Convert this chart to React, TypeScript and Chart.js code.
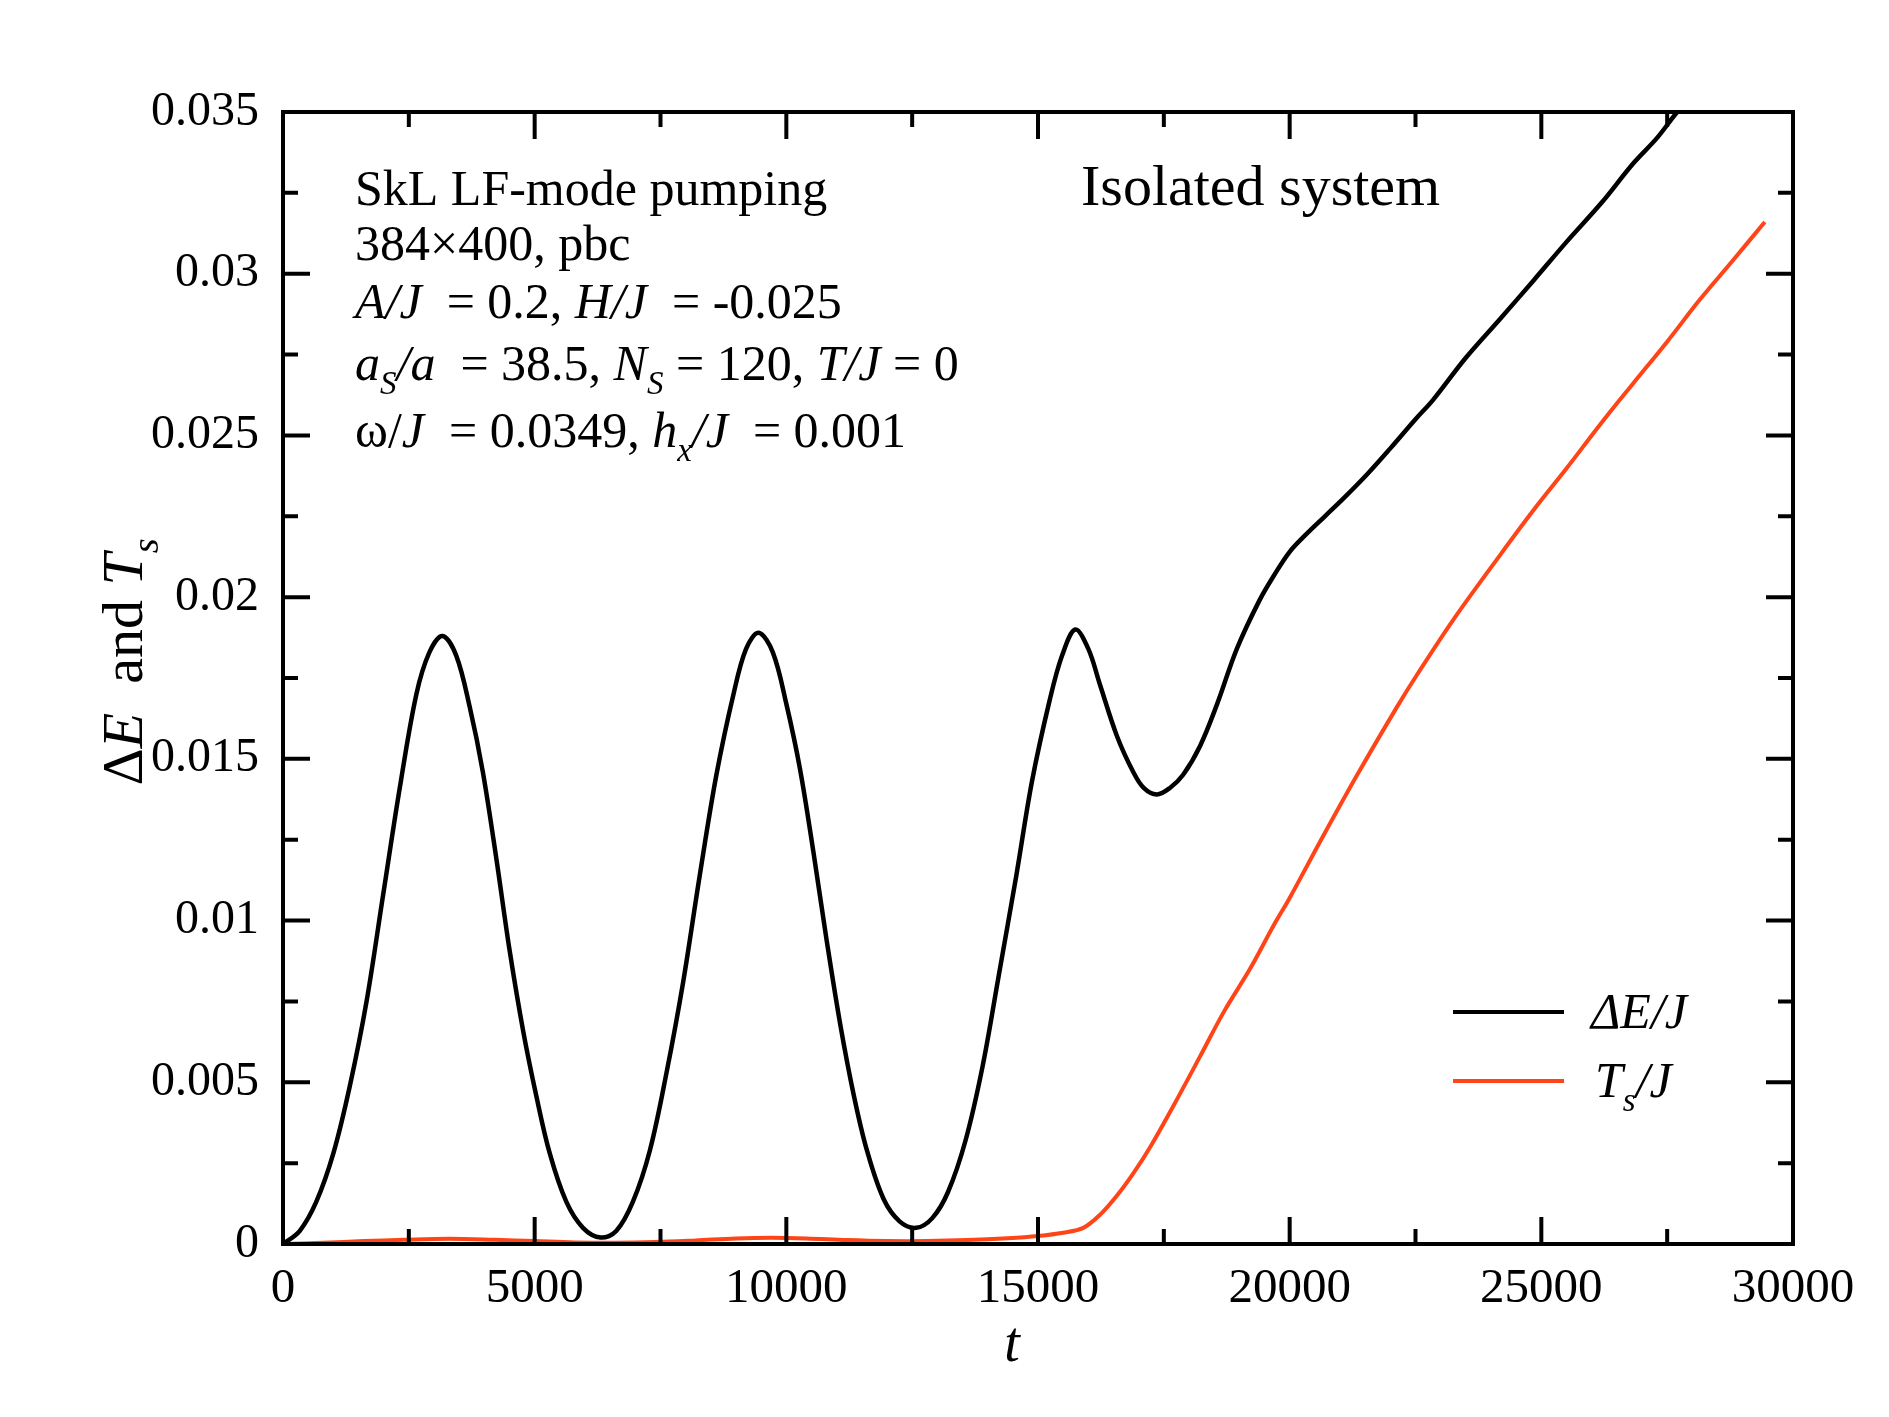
import React, { useEffect, useRef } from 'react';
import { Chart, registerables } from 'chart.js';

Chart.register(...registerables);

// ---- data ----
const tDE = [
  0, 330, 660, 1000, 1330, 1660, 1990, 2320, 2650, 2910, 3170, 3440, 3710, 3970, 4240, 4500, 4770, 5030,
  5300, 5630, 5960, 6310, 6620, 6950, 7290, 7620, 7950, 8280, 8610, 8950, 9200, 9450, 9730, 10000, 10270,
  10540, 10800, 11070, 11340, 11600, 11930, 12250, 12580, 12900, 13210, 13560, 13900, 14220, 14570, 14880,
  15230, 15480, 15740, 16000, 16230, 16570, 16890, 17100, 17360, 17620, 17880, 18220, 18560, 18950, 19400,
  19700, 20000, 20300, 20700, 21100, 21540, 22000, 22500, 22850, 23500, 24180, 24850, 25510, 26200, 26820,
  27300, 27700, 28500, 29400,
];
const vDE = [
  0, 0.0004, 0.0013, 0.0028, 0.0049, 0.0075, 0.0108, 0.0141, 0.017, 0.0183, 0.0188, 0.0182, 0.0166, 0.0146,
  0.0119, 0.0091, 0.0066, 0.0046, 0.0028, 0.0013, 0.0005, 0.0002, 0.0004, 0.0013, 0.0029, 0.0053, 0.0081,
  0.0114, 0.0145, 0.017, 0.0184, 0.0189, 0.0183, 0.0167, 0.0147, 0.0121, 0.0094, 0.0068, 0.0046, 0.0029,
  0.0014, 0.0007, 0.0005, 0.0008, 0.0016, 0.0032, 0.0055, 0.0083, 0.0114, 0.0143, 0.0168, 0.0182, 0.019,
  0.0184, 0.0173, 0.0157, 0.0146, 0.0141, 0.0139, 0.0141, 0.0145, 0.0154, 0.0167, 0.0184, 0.0199, 0.0207,
  0.0214, 0.0219, 0.0225, 0.0231, 0.0238, 0.0246, 0.0255, 0.0261, 0.0274, 0.0286, 0.0298, 0.031, 0.0322,
  0.0334, 0.0342, 0.035, 0.0364, 0.038,
];
const tTs = [
  0, 800, 1600, 2400, 3300, 4200, 5000, 5800, 6600, 7400, 8200, 9000, 9700, 10400, 11200, 12000, 12800,
  13600, 14400, 15000, 15500, 15900, 16230, 16570, 16900, 17230, 17700, 18220, 18700, 19210, 19700, 20000,
  20660, 21340, 22130, 22530, 23250, 24180, 24850, 25510, 26200, 26820, 27500, 28150, 28800, 29440,
];
const vTs = [
  0, 0.00004, 0.00009, 0.00013, 0.00016, 0.00013, 0.00009, 0.00005, 0.00004, 0.00006, 0.00011, 0.00017,
  0.00019, 0.00017, 0.00012, 0.00009, 0.00009, 0.00012, 0.00018, 0.00025, 0.00035, 0.0005, 0.0009, 0.0015,
  0.0022, 0.003, 0.0043, 0.0058, 0.0072, 0.0085, 0.0099, 0.0107, 0.0126, 0.0145, 0.0166, 0.0176, 0.0193,
  0.0213, 0.0227, 0.024, 0.0254, 0.0266, 0.0279, 0.0292, 0.0304, 0.0316,
];

const xMajorTicks = [0, 5000, 10000, 15000, 20000, 25000, 30000];
const xTickLabels = ['0', '5000', '10000', '15000', '20000', '25000', '30000'];
const xMinorTicks = [2500, 7500, 12500, 17500, 22500, 27500];
const yMajorTicks = [0, 0.005, 0.01, 0.015, 0.02, 0.025, 0.03, 0.035];
const yTickLabels = ['0', '0.005', '0.01', '0.015', '0.02', '0.025', '0.03', '0.035'];
const yMinorTicks = [0.0025, 0.0075, 0.0125, 0.0175, 0.0225, 0.0275, 0.0325];

const seriesLabels = ['ΔE/J', 'Ts/J'];
const seriesColors = ['#000000', '#ff4418'];

type Seg = { t: string; i?: boolean; sub?: boolean };

const infoLines: Seg[][] = [
  [{ t: 'SkL LF-mode pumping' }],
  [{ t: '384×400, pbc' }],
  [{ t: 'A/J', i: true }, { t: '  = 0.2, ' }, { t: 'H/J', i: true }, { t: '  = -0.025' }],
  [
    { t: 'a', i: true }, { t: 'S', i: true, sub: true }, { t: '/a', i: true }, { t: '  = 38.5, ' },
    { t: 'N', i: true }, { t: 'S', i: true, sub: true }, { t: ' = 120, ' }, { t: 'T/J', i: true }, { t: ' = 0' },
  ],
  [
    { t: 'ω/' }, { t: 'J', i: true }, { t: '  = 0.0349, ' }, { t: 'h', i: true }, { t: 'x', i: true, sub: true },
    { t: '/J', i: true }, { t: '  = 0.001' },
  ],
];
const infoBaselines = [205, 260, 318, 380, 447];
const titleText = 'Isolated system';
const legendSegs: Seg[][] = [
  [{ t: 'ΔE/J', i: true }],
  [{ t: 'T', i: true }, { t: 's', i: true, sub: true }, { t: '/J', i: true }],
];
const yTitleSegs: Seg[] = [{ t: 'Δ' }, { t: 'E', i: true }, { t: '  and ' }, { t: 'T', i: true }, { t: 's', i: true, sub: true }];
const xTitleSegs: Seg[] = [{ t: 't', i: true }];

const FONT = "'Liberation Serif', 'Times New Roman', serif";

function segFont(s: Seg, size: number) {
  const fs = s.sub ? size * 0.66 : size;
  return `${s.i ? 'italic ' : ''}${fs}px ${FONT}`;
}
function richWidth(ctx: CanvasRenderingContext2D, segs: Seg[], size: number) {
  let w = 0;
  for (const s of segs) {
    ctx.font = segFont(s, size);
    w += ctx.measureText(s.t).width;
  }
  return w;
}
function drawRich(ctx: CanvasRenderingContext2D, segs: Seg[], x: number, y: number, size: number) {
  let cx = x;
  for (const s of segs) {
    ctx.font = segFont(s, size);
    ctx.fillText(s.t, cx, y + (s.sub ? size * 0.28 : 0));
    cx += ctx.measureText(s.t).width;
  }
}

const decorPlugin = {
  id: 'decor',
  afterDraw(chart: any) {
    const ctx: CanvasRenderingContext2D = chart.ctx;
    const { left, right, top, bottom } = chart.chartArea;
    const xs = chart.scales.x;
    const ys = chart.scales.y;
    ctx.save();
    ctx.strokeStyle = '#000';
    ctx.fillStyle = '#000';
    ctx.lineWidth = 4;
    ctx.lineCap = 'butt';
    const major = 27;
    const minor = 15;
    ctx.beginPath();
    for (const v of xMajorTicks) {
      const p = xs.getPixelForValue(v);
      ctx.moveTo(p, bottom); ctx.lineTo(p, bottom - major);
      ctx.moveTo(p, top); ctx.lineTo(p, top + major);
    }
    for (const v of xMinorTicks) {
      const p = xs.getPixelForValue(v);
      ctx.moveTo(p, bottom); ctx.lineTo(p, bottom - minor);
      ctx.moveTo(p, top); ctx.lineTo(p, top + minor);
    }
    for (const v of yMajorTicks) {
      const p = ys.getPixelForValue(v);
      ctx.moveTo(left, p); ctx.lineTo(left + major, p);
      ctx.moveTo(right, p); ctx.lineTo(right - major, p);
    }
    for (const v of yMinorTicks) {
      const p = ys.getPixelForValue(v);
      ctx.moveTo(left, p); ctx.lineTo(left + minor, p);
      ctx.moveTo(right, p); ctx.lineTo(right - minor, p);
    }
    ctx.stroke();
    ctx.lineJoin = 'miter';
    ctx.strokeRect(left, top, right - left, bottom - top);

    // annotations
    ctx.textAlign = 'left';
    ctx.textBaseline = 'alphabetic';
    infoLines.forEach((segs, k) => drawRich(ctx, segs, 355, infoBaselines[k], 50));
    ctx.font = `58px ${FONT}`;
    ctx.fillText(titleText, 1081, 205);

    // legend
    const legY = [1012, 1081];
    const legTextY = [1028, 1097];
    chart.data.datasets.forEach((ds: any, k: number) => {
      ctx.strokeStyle = ds.borderColor;
      ctx.lineWidth = 4;
      ctx.beginPath();
      ctx.moveTo(1453, legY[k]);
      ctx.lineTo(1564, legY[k]);
      ctx.stroke();
      ctx.fillStyle = '#000';
      drawRich(ctx, legendSegs[k], k === 0 ? 1591 : 1595, legTextY[k], 50);
    });

    // x title
    const xw = richWidth(ctx, xTitleSegs, 56);
    drawRich(ctx, xTitleSegs, 1012 - xw / 2, 1361, 56);

    // y title (rotated)
    const yw = richWidth(ctx, yTitleSegs, 58);
    ctx.save();
    ctx.translate(142, 662 + yw / 2);
    ctx.rotate(-Math.PI / 2);
    drawRich(ctx, yTitleSegs, 0, 0, 58);
    ctx.restore();

    ctx.restore();
  },
};

export default function App() {
  const ref = useRef<HTMLCanvasElement>(null);
  useEffect(() => {
    document.body.style.margin = '0';
    const canvas = ref.current!;
    const chart = new Chart(canvas, {
      type: 'line',
      data: {
        datasets: [
          {
            label: seriesLabels[0],
            data: tDE.map((t, i) => ({ x: t, y: vDE[i] })),
            borderColor: seriesColors[0],
            borderWidth: 4.5,
            pointRadius: 0,
            tension: 0.35,
            fill: false,
          },
          {
            label: seriesLabels[1],
            data: tTs.map((t, i) => ({ x: t, y: vTs[i] })),
            borderColor: seriesColors[1],
            borderWidth: 4,
            pointRadius: 0,
            tension: 0.35,
            fill: false,
          },
        ],
      },
      options: {
        responsive: false,
        animation: false,
        devicePixelRatio: 1,
        events: [],
        layout: { padding: { left: 0, top: 112, right: 96, bottom: 0 } },
        plugins: { legend: { display: false }, tooltip: { enabled: false } },
        scales: {
          x: {
            type: 'linear',
            min: 0,
            max: 30000,
            afterFit: (s: any) => { s.height = 173; },
            afterBuildTicks: (s: any) => { s.ticks = xMajorTicks.map((v) => ({ value: v })); },
            ticks: {
              callback: (v: any) => xTickLabels[xMajorTicks.indexOf(Number(v))],
              padding: 16,
              color: '#000',
              font: { family: FONT, size: 49 },
              maxRotation: 0,
              autoSkip: false,
            },
            grid: { display: false, drawTicks: false },
            border: { display: false },
          },
          y: {
            type: 'linear',
            min: 0,
            max: 0.035,
            afterFit: (s: any) => { s.width = 283; },
            afterBuildTicks: (s: any) => { s.ticks = yMajorTicks.map((v) => ({ value: v })); },
            ticks: {
              callback: (v: any) => yTickLabels[yMajorTicks.findIndex((m) => Math.abs(m - Number(v)) < 1e-9)],
              padding: 24,
              color: '#000',
              font: { family: FONT, size: 48 },
              autoSkip: false,
            },
            grid: { display: false, drawTicks: false },
            border: { display: false },
          },
        },
      },
      plugins: [decorPlugin],
    } as any);
    return () => chart.destroy();
  }, []);
  return <canvas ref={ref} width={1889} height={1417} style={{ display: 'block' }} />;
}
